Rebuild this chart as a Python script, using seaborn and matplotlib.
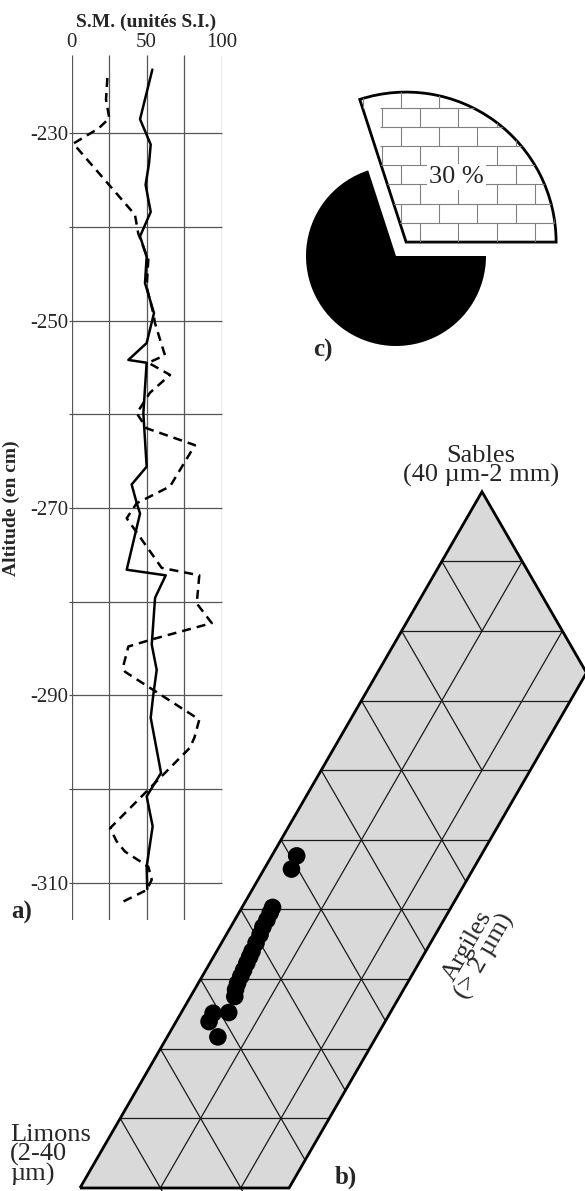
import numpy as np
import pandas as pd
import seaborn as sns
import matplotlib.pyplot as plt
from matplotlib.patches import Polygon

# a) profil de S.M. (unités S.I.) en fonction de l'altitude (cm)
sm_plein = [53.9, 45.7, 52.8, 51.7, 49.4, 52.8, 45.7, 50.1, 49.0, 55.0,
            50.1, 37.9, 50.1, 47.9, 50.1, 40.1, 43.5, 45.7, 36.8, 62.8,
            55.7, 53.5, 56.8, 54.5, 52.8, 59.7, 50.1, 54.1, 50.1, 50.5]
alt_plein = [-223.2, -228.5, -231.2, -233.2, -235.5, -238.4, -241.0, -243.2, -246.0, -249.2,
             -252.4, -254.2, -254.5, -259.9, -265.6, -267.5, -269.5, -270.6, -276.6, -277.2,
             -279.6, -284.6, -287.3, -290.0, -292.4, -298.3, -300.8, -304.0, -308.3, -310.7]

sm_tirets = [23.9, 23.0, 25.2, 17.9, 1.2, 42.3, 44.5, 51.2, 50.1, 54.5,
             55.7, 62.3, 51.2, 65.7, 52.3, 43.5, 50.1, 82.3, 65.7, 43.5,
             36.8, 60.1, 85.2, 83.5, 93.5, 54.5, 37.9, 34.5, 35.7, 85.2,
             82.0, 79.0, 25.7, 30.1, 35.7, 51.2, 53.5, 50.1, 32.3]
alt_tirets = [-224.1, -226.4, -228.4, -229.5, -231.1, -238.7, -240.7, -243.5, -246.4, -249.2,
              -250.3, -253.7, -254.5, -255.8, -257.7, -259.9, -261.5, -263.3, -267.7, -269.5,
              -271.1, -276.4, -277.2, -280.2, -282.3, -284.0, -284.8, -286.9, -287.5, -292.6,
              -294.5, -295.6, -304.2, -305.6, -306.7, -308.3, -309.7, -310.8, -312.2]

alt_ticks = [-230, -250, -270, -290, -310]
sm_ticks = [0, 50, 100]

# b) texture : % sables et % argiles (limons = reste)
sables = [47.7, 45.8, 40.3, 39.5, 38.5, 37.5, 36.4, 35.2, 34.0, 33.2,
          32.3, 31.3, 30.4, 29.4, 28.5, 27.5, 25.2, 25.1, 23.9, 21.7]
argiles = [3.1, 3.4, 3.8, 3.9, 4.0, 4.0, 4.2, 4.3, 4.4, 4.5,
           4.6, 4.7, 4.8, 4.9, 5.1, 5.5, 5.9, 4.0, 4.1, 6.3]
argiles_max = 26  # bande du triangle représentée

# c) camembert
parts = [30, 70]

sns.set_style('white')
plt.rcParams['font.family'] = ['Liberation Serif', 'DejaVu Serif']
plt.rcParams['axes.unicode_minus'] = False

W, H = 585, 1191
fig = plt.figure(figsize=(W / 100, H / 100), dpi=100)

# ---------- a) ----------
ax = fig.add_axes([71.5 / W, 1 - 920 / H, 150 / W, 865.4 / H])
grid_col = '#555555'
ax.vlines([0, 25, 50, 75], -314, -221.6, color=grid_col, lw=0.9, zorder=0)
ax.vlines(100, -310, -221.6, color=grid_col, lw=0.9, zorder=0)
ax.hlines(np.arange(-310, -229, 10), -2, 100, color=grid_col, lw=0.9, zorder=0, clip_on=False)

df_plein = pd.DataFrame({'sm': sm_plein, 'alt': alt_plein})
df_tirets = pd.DataFrame({'sm': sm_tirets, 'alt': alt_tirets})
sns.lineplot(data=df_plein, x='sm', y='alt', sort=False, estimator=None,
             color='black', lw=1.8, ax=ax)
sns.lineplot(data=df_tirets, x='sm', y='alt', sort=False, estimator=None,
             color='black', lw=1.8, linestyle=(0, (3.6, 2.4)), ax=ax)

ax.set_xlim(0, 100)
ax.set_ylim(-314, -221.6)
ax.set_xticks(sm_ticks)
ax.set_yticks(alt_ticks)
ax.xaxis.tick_top()
ax.xaxis.set_label_position('top')
ax.tick_params(axis='both', length=0, labelsize=15)
ax.tick_params(axis='x', pad=2)
ax.tick_params(axis='y', pad=2)
sns.despine(ax=ax, left=True, bottom=True)
ax.set_xlabel('S.M. (unités S.I.)', fontweight='bold', fontsize=14, labelpad=4)
ax.set_ylabel('Altitude (en cm)', fontweight='bold', fontsize=14)
ax.yaxis.set_label_coords((20 - 71.5) / 150, (920 - 508) / 865.4)

# ---------- overlay en pixels (y vers le haut) ----------
ov = fig.add_axes([0, 0, 1, 1])

# c) camembert
centre = (396, H - 256)
w_noir, _ = ov.pie(parts, radius=90, center=centre, startangle=0,
                   colors=['none', 'black'], wedgeprops=dict(lw=0))
w_noir[0].set_visible(False)
w_brique, _ = ov.pie(parts, radius=150, center=centre, startangle=0,
                     explode=[17.2, 0], colors=['white', 'none'],
                     wedgeprops=dict(lw=2.0, edgecolor='black'))
w_brique[1].set_visible(False)
w_brique[0].set_zorder(1)

# motif de briques
y_bas = H - 241.7
haut_b, larg_b = 19.1, 38.3
for k in range(9):
    yb = y_bas + k * haut_b
    hl = ov.hlines(yb, 380, 560, color='#808080', lw=0.8, zorder=2)
    hl.set_clip_path(w_brique[0])
    x0 = 420 + (k % 2) * larg_b / 2
    xs = x0 + larg_b * np.arange(-3, 5)
    vl = ov.vlines(xs, yb, yb + haut_b, color='#808080', lw=0.8, zorder=2)
    vl.set_clip_path(w_brique[0])
ov.text(456.7, H - 176.7, '30 %', fontsize=19, ha='center', va='center', zorder=4,
        bbox=dict(facecolor='white', edgecolor='none', pad=1.5))

# b) triangle texture
X0, Y0, COTE = 80, 3, 804
HAUT = COTE * np.sqrt(3) / 2


def tern(s, a):
    s = np.asarray(s, dtype=float) / 100
    a = np.asarray(a, dtype=float) / 100
    return X0 + COTE * (a + s / 2), Y0 + HAUT * s


cs = [0, 0, 100 - argiles_max, 100]
ca = [0, argiles_max, argiles_max, 0]
px, py = tern(cs, ca)
ov.add_patch(Polygon(np.column_stack([px, py]), closed=True, facecolor='#d9d9d9',
                     edgecolor='none', zorder=1))
for k in range(10, 100, 10):
    # sables constants (horizontales)
    xx, yy = tern([k, k], [0, min(argiles_max, 100 - k)])
    ov.plot(xx, yy, color='#1a1a1a', lw=0.9, zorder=2)
    # limons constants
    a_fin = min(argiles_max, k)
    xx, yy = tern([100 - k, 100 - k - a_fin], [0, a_fin])
    ov.plot(xx, yy, color='#1a1a1a', lw=0.9, zorder=2)
for a in (10, 20):
    xx, yy = tern([0, 100 - a], [a, a])
    ov.plot(xx, yy, color='#1a1a1a', lw=0.9, zorder=2)
ov.add_patch(Polygon(np.column_stack([px, py]), closed=True, facecolor='none',
                     edgecolor='black', lw=2.0, zorder=3, joinstyle='miter'))

tx, ty = tern(sables, argiles)
sns.scatterplot(x=tx, y=ty, color='black', s=160, edgecolor='none', legend=False,
                zorder=5, ax=ov)

ov.text(481, H - 466, 'Sables\n(40 µm-2 mm)', fontsize=19, ha='center', va='center',
        linespacing=0.85)
ov.text(10, H - 1155, 'Limons\n(2-40\nµm)', fontsize=19, ha='left', va='center',
        linespacing=0.85)
ov.text(476, H - 951, 'Argiles\n(> 2 µm)', fontsize=19, ha='center', va='center',
        rotation=60, rotation_mode='anchor', linespacing=0.85)

ov.text(22, H - 912, 'a)', fontsize=18, fontweight='bold', ha='center', va='center')
ov.text(346, H - 1177, 'b)', fontsize=18, fontweight='bold', ha='center', va='center')
ov.text(323, H - 350, 'c)', fontsize=18, fontweight='bold', ha='center', va='center')

ov.set_xlim(0, W)
ov.set_ylim(0, H)
ov.set_aspect('auto')
ov.axis('off')

fig.savefig('out.png', dpi=100)
